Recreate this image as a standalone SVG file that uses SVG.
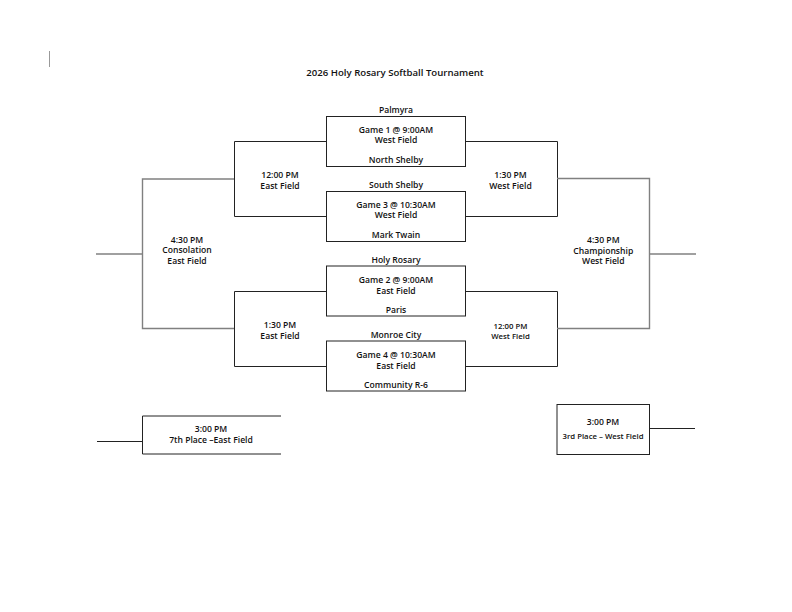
<svg xmlns="http://www.w3.org/2000/svg" width="792" height="612" viewBox="0 0 792 612">
<style>
text{font-family:"Open Sans","Liberation Sans",sans-serif;font-weight:600;font-size:8.6px;fill:#111;text-anchor:middle}
.t{font-size:9.6px}
.s{font-size:7.8px}
.b{fill:none;stroke:#222;stroke-width:1}
.g{fill:none;stroke:#808080;stroke-width:1.4}
</style>
<rect width="792" height="612" fill="#fff"/>
<line x1="49.5" y1="51" x2="49.5" y2="67" stroke="#999" stroke-width="1"/>
<text class="t" x="395" y="76">2026 Holy Rosary Softball Tournament</text>
<g id="connectors">
<path class="b" d="M326,141.5H234.5V216.5H326"/>
<path class="b" d="M465,141.5H557.5V216.5H465"/>
<path class="b" d="M326,291.5H234.5V366.5H326"/>
<path class="b" d="M465,291.5H557.5V366.5H465"/>
<path class="g" d="M234,179H142.5V328.5H234"/>
<path class="g" d="M96,254H142.5"/>
<path class="g" d="M557,178.5H649.5V328.5H557"/>
<path class="g" d="M649.5,254H696"/>
<path class="b" d="M97,441.5H142"/>
<path class="b" d="M649.5,428.5H695"/>
</g>
<g id="game1">
<rect class="b" x="326.5" y="116.5" width="139" height="50"/>
<text x="396" y="113">Palmyra</text>
<text x="396" y="132.5">Game 1 @ 9:00AM</text>
<text x="396" y="143.3">West Field</text>
<text x="396" y="163.3">North Shelby</text>
</g>
<g id="game3">
<rect class="b" x="326.5" y="191.5" width="139" height="50"/>
<text x="396" y="188.3">South Shelby</text>
<text x="396" y="207.5">Game 3 @ 10:30AM</text>
<text x="396" y="218.3">West Field</text>
<text x="396" y="238.3">Mark Twain</text>
</g>
<g id="game2">
<rect class="b" x="326.5" y="266" width="139" height="50"/>
<text x="396" y="263.3">Holy Rosary</text>
<text x="396" y="283.3">Game 2 @ 9:00AM</text>
<text x="396" y="294.2">East Field</text>
<text x="396" y="313.3">Paris</text>
</g>
<g id="game4">
<rect class="b" x="326.5" y="341" width="139" height="50"/>
<text x="396" y="338.3">Monroe City</text>
<text x="396" y="358.3">Game 4 @ 10:30AM</text>
<text x="396" y="369.2">East Field</text>
<text x="396" y="388.3">Community R-6</text>
</g>
<g id="semi1">
<text x="280" y="177.7">12:00 PM</text>
<text x="280" y="188.5">East Field</text>
</g>
<g id="semi2">
<text x="510.5" y="177.7">1:30 PM</text>
<text x="510.5" y="188.5">West Field</text>
</g>
<g id="semi3">
<text x="280" y="327.7">1:30 PM</text>
<text x="280" y="338.5">East Field</text>
</g>
<g id="semi4">
<text class="s" x="510.5" y="328.7">12:00 PM</text>
<text class="s" x="510.5" y="339.3">West Field</text>
</g>
<g id="consolation">
<text x="187" y="242.5">4:30 PM</text>
<text x="187" y="253.3">Consolation</text>
<text x="187" y="264">East Field</text>
</g>
<g id="championship">
<text x="603.3" y="243">4:30 PM</text>
<text x="603.3" y="253.7">Championship</text>
<text x="603.3" y="264.3">West Field</text>
</g>
<g id="seventh">
<path class="b" d="M281,416H142.5V454H281"/>
<text x="211" y="432">3:00 PM</text>
<text x="211" y="443">7th Place –East Field</text>
</g>
<g id="third">
<rect class="b" x="557" y="404.5" width="92.5" height="50"/>
<text x="603" y="425">3:00 PM</text>
<text class="s" x="603" y="438.5">3rd Place – West Field</text>
</g>
</svg>
